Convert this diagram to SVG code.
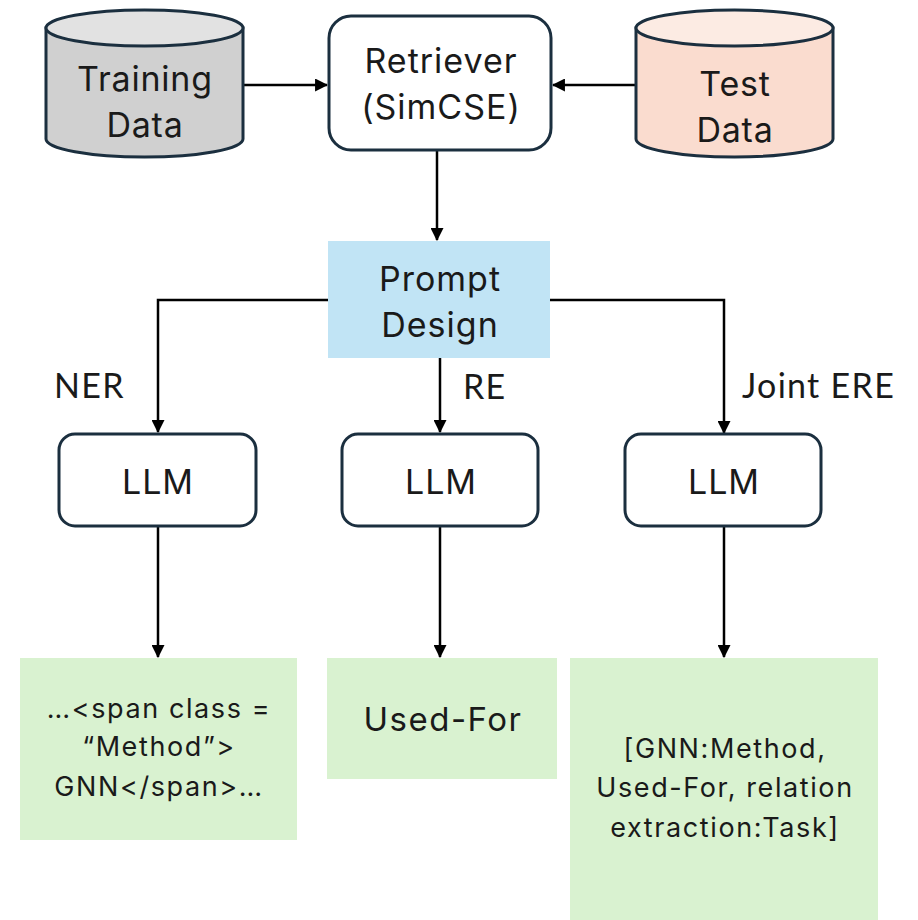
<svg xmlns="http://www.w3.org/2000/svg" width="918" height="920" viewBox="0 0 918 920">
  <defs>
    <marker id="arrow" viewBox="0 0 12 12" refX="11" refY="6" markerWidth="13" markerHeight="13" markerUnits="userSpaceOnUse" orient="auto">
      <path d="M0,0 L12,6 L0,12 Z" fill="#000"/>
    </marker>
    <style>
      .outline { stroke: #1b2f3f; stroke-width: 3; }
      .box { fill: #ffffff; }
      .wire { fill: none; stroke: #000; stroke-width: 2.5; }
      .t { font-family: Inter, "Open Sans", sans-serif; fill: #1a1a1a; text-anchor: middle; }
      .big { font-size: 34px; letter-spacing: 1px; }
      .small { font-size: 27px; letter-spacing: 1.6px; }
      .lbl { font-family: Lato, "Open Sans", sans-serif; fill: #1a1a1a; font-size: 34px; letter-spacing: 1.3px; }
      .green { fill: #d9f2d0; }
    </style>
  </defs>

  <rect width="918" height="920" fill="#ffffff"/>

  <!-- connectors -->
  <g id="connectors">
    <path class="wire" d="M243,85 L327,85" marker-end="url(#arrow)"/>
    <path class="wire" d="M636,85 L553,85" marker-end="url(#arrow)"/>
    <path class="wire" d="M437,151 L437,240" marker-end="url(#arrow)"/>
    <path class="wire" d="M329,300 L158,300 L158,432" marker-end="url(#arrow)"/>
    <path class="wire" d="M440,358 L440,432" marker-end="url(#arrow)"/>
    <path class="wire" d="M550,300 L724,300 L724,433" marker-end="url(#arrow)"/>
    <path class="wire" d="M158,527 L158,657" marker-end="url(#arrow)"/>
    <path class="wire" d="M440,527 L440,657" marker-end="url(#arrow)"/>
    <path class="wire" d="M724,527 L724,657" marker-end="url(#arrow)"/>
  </g>

  <!-- data stores -->
  <g id="training-data">
    <path class="outline" fill="#d0d0d0" d="M46,28 L46,139 A98.5,18 0 0 0 243,139 L243,28 Z"/>
    <ellipse class="outline" cx="144.5" cy="28" rx="98.5" ry="18" fill="#e2e2e2"/>
    <text class="t" x="145" y="91" font-size="34" letter-spacing="0.8">Training</text>
    <text class="t" x="145" y="137" font-size="34" letter-spacing="0.8">Data</text>
  </g>

  <g id="test-data">
    <path class="outline" fill="#fadccf" d="M636,28 L636,139 A98.5,18 0 0 0 833,139 L833,28 Z"/>
    <ellipse class="outline" cx="734.5" cy="28" rx="98.5" ry="18" fill="#fcebe3"/>
    <text class="t" x="735" y="96" font-size="34" letter-spacing="0.8">Test</text>
    <text class="t" x="735" y="142" font-size="34" letter-spacing="0.8">Data</text>
  </g>

  <g id="retriever">
    <rect class="outline box" x="329" y="16" width="222" height="134" rx="22"/>
    <text class="t big" x="441" y="73">Retriever</text>
    <text class="t big" x="441" y="119">(SimCSE)</text>
  </g>

  <g id="prompt-design">
    <rect x="328" y="241" width="222" height="117" fill="#c1e4f5"/>
    <text class="t big" x="440" y="291">Prompt</text>
    <text class="t big" x="440" y="337">Design</text>
  </g>

  <!-- task labels -->
  <g id="labels">
    <text class="lbl" x="54" y="398">NER</text>
    <text class="lbl" x="463" y="399">RE</text>
    <text class="lbl" x="742" y="398">Joint ERE</text>
  </g>

  <g id="llm-ner">
    <rect class="outline box" x="59" y="434" width="197" height="92" rx="16"/>
    <text class="t big" x="158" y="494">LLM</text>
  </g>
  <g id="llm-re">
    <rect class="outline box" x="342" y="434" width="196" height="92" rx="16"/>
    <text class="t big" x="441" y="494">LLM</text>
  </g>
  <g id="llm-joint">
    <rect class="outline box" x="625" y="434" width="196" height="92" rx="16"/>
    <text class="t big" x="724" y="494">LLM</text>
  </g>

  <!-- outputs -->
  <g id="out-ner">
    <rect class="green" x="20" y="658" width="277" height="182"/>
    <text class="t small" x="159" y="718">…&lt;span class =</text>
    <text class="t small" x="159" y="756">“Method”&gt;</text>
    <text class="t small" x="159" y="796">GNN&lt;/span&gt;…</text>
  </g>
  <g id="out-re">
    <rect class="green" x="327" y="658" width="230" height="121"/>
    <text class="t" x="443" y="731" font-size="33" letter-spacing="1.5">Used-For</text>
  </g>
  <g id="out-joint">
    <rect class="green" x="570" y="658" width="308" height="262"/>
    <text class="t small" x="725" y="758">[GNN:Method,</text>
    <text class="t small" x="725" y="797">Used-For, relation</text>
    <text class="t small" x="725" y="837">extraction:Task]</text>
  </g>
</svg>
